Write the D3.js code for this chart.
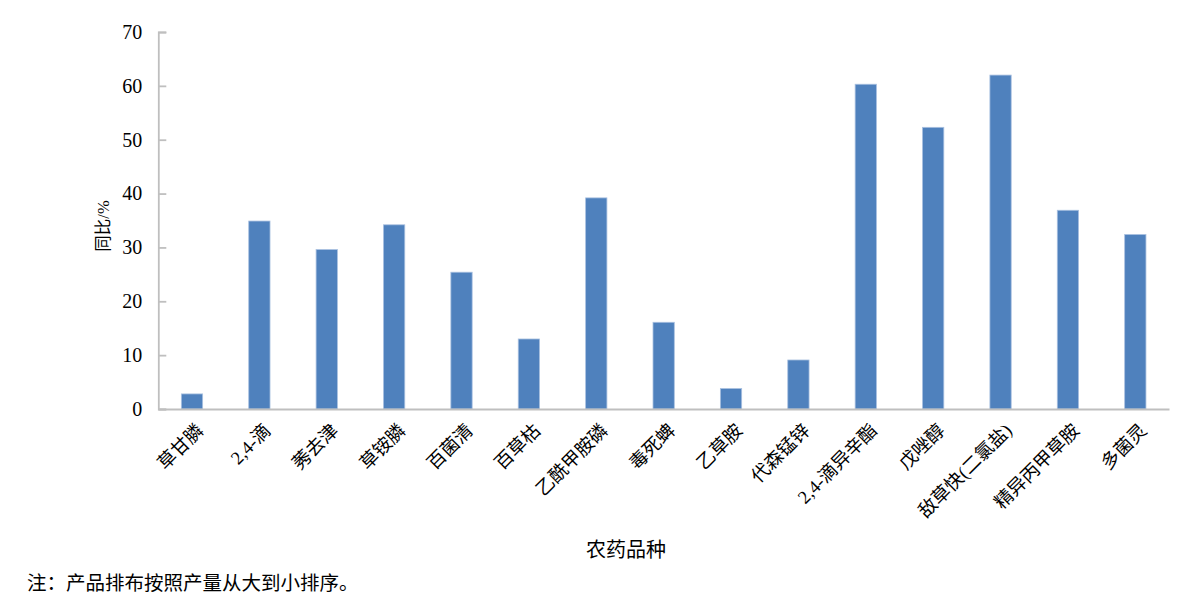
<!DOCTYPE html>
<html><head><meta charset="utf-8">
<script src="https://cdn.jsdelivr.net/npm/d3@7"></script>
<style>
html,body{margin:0;padding:0;background:#fff;}
svg text{font-family:"Liberation Serif","Noto Sans CJK SC",serif;fill:#000;}
</style></head>
<body>
<svg id="chart" width="1187" height="603"></svg>
<script>
const categories = ["草甘膦","2,4-滴","莠去津","草铵膦","百菌清","百草枯","乙酰甲胺磷","毒死蜱","乙草胺","代森锰锌","2,4-滴异辛酯","戊唑醇","敌草快(二氯盐)","精异丙甲草胺","多菌灵"];
const values = [2.8,34.9,29.6,34.2,25.4,13.0,39.2,16.1,3.8,9.1,60.3,52.3,62.0,36.9,32.4];
const yTicks = [0,10,20,30,40,50,60,70];
const yTitle = "同比/%";
const xTitle = "农药品种";
const note = "注：产品排布按照产量从大到小排序。";

(function(){
const svg = d3.select("#chart");
const mLeft = 158.3, mRight = 1169, mTop = 32, mBottom = 409;
const x = d3.scaleBand().domain(categories).range([mLeft, mRight]).padding(0);
const y = d3.scaleLinear().domain([0,70]).range([mBottom, mTop]);
const barW = x.bandwidth()*0.316;

// bars
svg.append("g").selectAll("rect").data(categories).join("rect")
  .attr("x", d => x(d) + x.bandwidth()/2 - barW/2)
  .attr("y", (d,i) => y(values[i]))
  .attr("width", barW)
  .attr("height", (d,i) => y(0) - y(values[i]))
  .attr("fill", "#4f81bd")
  .attr("stroke", "#a9c0e0").attr("stroke-width", 0.8);

// y axis
const yAxis = svg.append("g").attr("transform", `translate(${mLeft},0)`)
  .call(d3.axisLeft(y).tickValues(yTicks).tickSize(-8).tickPadding(16).tickFormat(d3.format("d")));
yAxis.select(".domain").attr("stroke","#bfbfbf").attr("stroke-width",1.8);
yAxis.selectAll(".tick line").attr("stroke","#bfbfbf").attr("stroke-width",1.8);
yAxis.selectAll(".tick text").attr("font-size",20).attr("fill","#000")
  .style("font-family","'Liberation Serif',serif");

// x axis
const xAxis = svg.append("g").attr("transform", `translate(0,${mBottom})`)
  .call(d3.axisBottom(x).tickSize(0).tickPadding(0));
xAxis.select(".domain").attr("stroke","#bfbfbf").attr("stroke-width",1.8);
xAxis.selectAll(".tick text")
  .attr("font-size",18.5).attr("fill","#000")
  .style("font-family","'Liberation Serif','Noto Sans CJK SC',serif")
  .attr("text-anchor","end")
  .attr("transform","translate(8,18) rotate(-45)")
  .attr("dy","0.35em");

// titles
svg.append("text").attr("transform",`translate(109,226) rotate(-90)`)
  .attr("text-anchor","middle").attr("font-size",16.5).text(yTitle);
svg.append("text").attr("x",626).attr("y",557)
  .attr("text-anchor","middle").attr("font-size",20).text(xTitle);
svg.append("text").attr("x",27).attr("y",590)
  .attr("font-size",19.5).text(note);
})();
</script>
</body></html>
